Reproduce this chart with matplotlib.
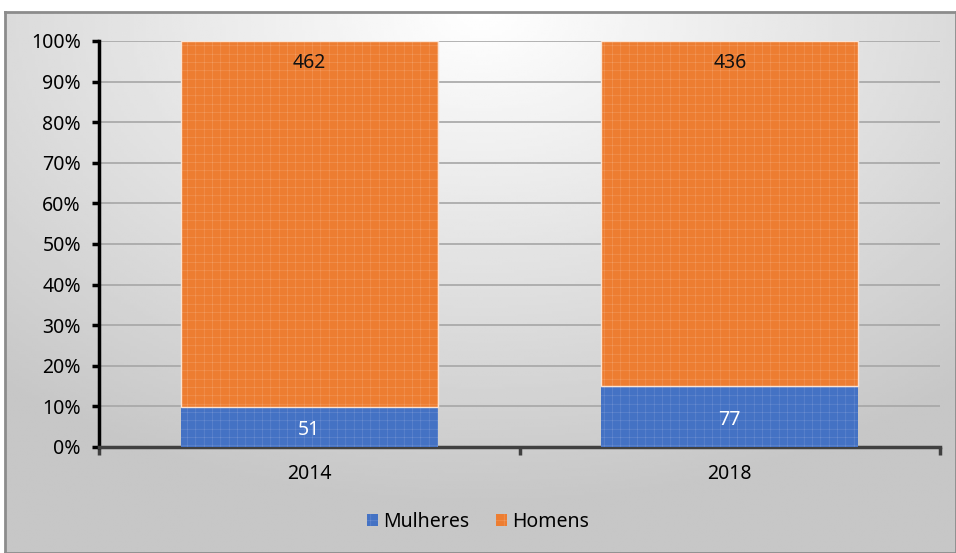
import numpy as np
import matplotlib.pyplot as plt
import matplotlib as mpl
from matplotlib.patches import Patch

anos = ['2014', '2018']
mulheres = [51, 77]
homens = [462, 436]

plt.rcParams['font.family'] = ['Noto Sans', 'DejaVu Sans']
mpl.rcParams['hatch.linewidth'] = 0.3

tot = np.array(mulheres) + np.array(homens)
p_m = np.array(mulheres) / tot * 100
p_h = np.array(homens) / tot * 100

fig = plt.figure(figsize=(9.56, 5.53), dpi=100)

# fundo em degradê com borda
bg = fig.add_axes([0.005, 0, 0.995, 1 - 12 / 553], zorder=0)
yy, xx = np.mgrid[0:1:200j, 0:1:300j]
r = np.sqrt(((xx - 0.5) * 1.3) ** 2 + (yy * 1.1) ** 2)
grad = 1.0 - 0.22 * np.clip(r, 0, 1)
bg.imshow(grad, cmap='gray', vmin=0, vmax=1, aspect='auto', extent=[0, 1, 0, 1], origin='upper')
bg.set_xticks([])
bg.set_yticks([])
for s in bg.spines.values():
    s.set_color('#8c8c8c')
    s.set_linewidth(2)

ax = fig.add_axes([99 / 956, 1 - 447 / 553, (940 - 99) / 956, (447 - 41) / 553], zorder=1)
ax.patch.set_alpha(0)

x = np.arange(len(anos))
w = 0.61
ax.bar(x, p_m, w, color='#4472c4', edgecolor='#7393d3', hatch='++', linewidth=0, zorder=3)
ax.bar(x, p_h, w, bottom=p_m, color='#ed7d31', edgecolor='#f3a26a', hatch='++', linewidth=0, zorder=3)
ax.bar(x, p_h, w, bottom=p_m, fill=False, edgecolor='#fbe3d2', linewidth=1.0, zorder=4)

for i in range(len(anos)):
    ax.text(x[i], p_m[i] / 2 - 0.8, str(mulheres[i]), ha='center', va='center', color='white', fontsize=14, zorder=5)
    ax.text(x[i], 94.5, str(homens[i]), ha='center', va='center', color='#111111', fontsize=14, zorder=5)

ax.set_xlim(-0.5, 1.5)
ax.set_ylim(0, 100)
ax.set_yticks(np.arange(0, 101, 10))
ax.set_yticklabels([f'{v}%' for v in range(0, 101, 10)], fontsize=14)
ax.yaxis.grid(True, color='#a6a6a6', linewidth=1.2, zorder=1)
ax.set_axisbelow(True)

ax.set_xticks(x)
ax.set_xticklabels(anos, fontsize=14)
ax.tick_params(axis='x', length=0, pad=12)
ax.set_xticks([-0.5, 0.5, 1.5], minor=True)
ax.tick_params(axis='x', which='minor', length=6, width=2.5, color='#404040', direction='out')
ax.tick_params(axis='y', length=5, width=2.5, color='black', direction='out', pad=8)

for s in ['top', 'right']:
    ax.spines[s].set_visible(False)
ax.spines['left'].set_linewidth(2.5)
ax.spines['left'].set_color('black')
ax.spines['bottom'].set_linewidth(2.5)
ax.spines['bottom'].set_color('#404040')

hs = [Patch(facecolor='#4472c4', edgecolor='#7393d3', hatch='++', linewidth=0, label='Mulheres'),
      Patch(facecolor='#ed7d31', edgecolor='#f3a26a', hatch='++', linewidth=0, label='Homens')]
fig.legend(handles=hs, loc='center', bbox_to_anchor=(0.5, 1 - 522 / 553), ncol=2, frameon=False,
           fontsize=14, handlelength=0.55, handleheight=0.55, handletextpad=0.25, columnspacing=1.4)

fig.savefig('out.png', dpi=100)
